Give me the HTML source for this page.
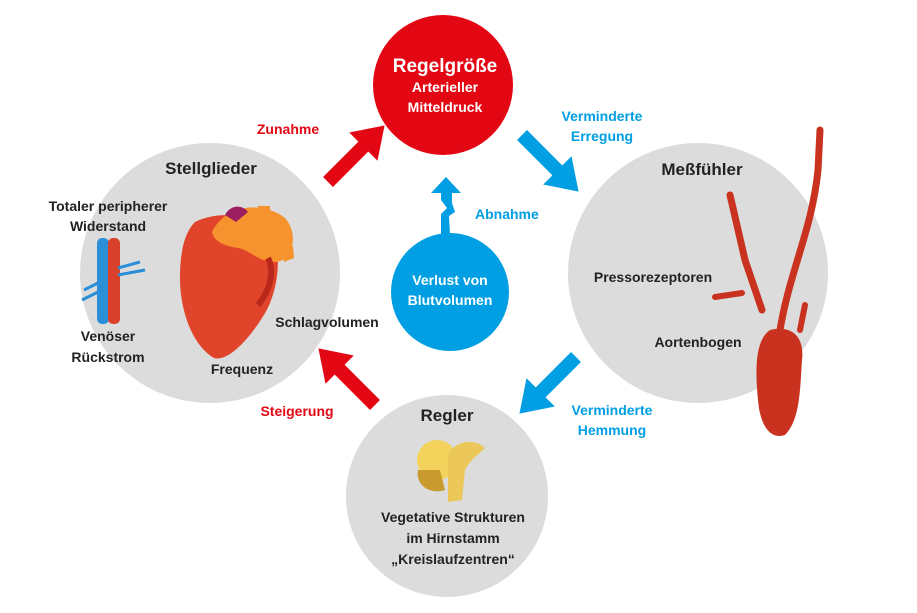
<!DOCTYPE html>
<html><head><meta charset="utf-8"><style>
html,body{margin:0;padding:0;background:#fff;}
svg{display:block;font-family:"Liberation Sans",Arial,sans-serif;font-weight:bold;}
</style></head><body>
<svg width="917" height="613" viewBox="0 0 917 613" xmlns="http://www.w3.org/2000/svg">
<circle cx="210" cy="273" r="130" fill="#dcdcdc"/>
<circle cx="698" cy="273" r="130" fill="#dcdcdc"/>
<circle cx="447" cy="496" r="101" fill="#dcdcdc"/>
<circle cx="443" cy="85" r="70" fill="#e30613"/>
<text x="445" y="72" fill="#fff" font-size="19" text-anchor="middle">Regelgröße</text>
<text x="445" y="92" fill="#fff" font-size="14" text-anchor="middle">Arterieller</text>
<text x="445" y="112" fill="#fff" font-size="14" text-anchor="middle">Mitteldruck</text>
<circle cx="450" cy="292" r="59" fill="#009fe3"/>
<text x="450" y="285" fill="#fff" font-size="14" text-anchor="middle">Verlust von</text>
<text x="450" y="305" fill="#fff" font-size="14" text-anchor="middle">Blutvolumen</text>
<polygon points="446,177 461,193 452,193 452,203 455,212 449,216 450,234 441,234 441,214 447,208 441,200 441,193 431,193" fill="#009fe3"/>
<text x="475" y="219" fill="#009fe3" font-size="14">Abnahme</text>
<g fill="#e30613">
<g transform="translate(328,182) rotate(-45)"><rect x="0" y="-7" width="55" height="14"/><polygon points="50,-20 80,0 50,20"/></g>
<g transform="translate(375,405) rotate(-135)"><rect x="0" y="-7" width="55" height="14"/><polygon points="50,-20 80,0 50,20"/></g>
</g>
<g fill="#009fe3">
<g transform="translate(522,135) rotate(45)"><rect x="0" y="-7" width="55" height="14"/><polygon points="50,-20 80,0 50,20"/></g>
<g transform="translate(576,357) rotate(135)"><rect x="0" y="-7" width="55" height="14"/><polygon points="50,-20 80,0 50,20"/></g>
</g>
<text x="288" y="134" fill="#e30613" font-size="14" text-anchor="middle">Zunahme</text>
<text x="297" y="416" fill="#e30613" font-size="14" text-anchor="middle">Steigerung</text>
<text x="602" y="121" fill="#009fe3" font-size="14" text-anchor="middle">Verminderte</text>
<text x="602" y="141" fill="#009fe3" font-size="14" text-anchor="middle">Erregung</text>
<text x="612" y="415" fill="#009fe3" font-size="14" text-anchor="middle">Verminderte</text>
<text x="612" y="435" fill="#009fe3" font-size="14" text-anchor="middle">Hemmung</text>
<g fill="#222">
<text x="211" y="174" font-size="17" text-anchor="middle">Stellglieder</text>
<text x="108" y="211" font-size="14" text-anchor="middle">Totaler peripherer</text>
<text x="108" y="231" font-size="14" text-anchor="middle">Widerstand</text>
<text x="108" y="341" font-size="14" text-anchor="middle">Venöser</text>
<text x="108" y="362" font-size="14" text-anchor="middle">Rückstrom</text>
<text x="242" y="374" font-size="14" text-anchor="middle">Frequenz</text>
<text x="327" y="327" font-size="14" text-anchor="middle">Schlagvolumen</text>
<text x="702" y="175" font-size="17" text-anchor="middle">Meßfühler</text>
<text x="653" y="282" font-size="14" text-anchor="middle">Pressorezeptoren</text>
<text x="698" y="347" font-size="14" text-anchor="middle">Aortenbogen</text>
<text x="447" y="421" font-size="17" text-anchor="middle">Regler</text>
<text x="453" y="522" font-size="14" text-anchor="middle">Vegetative Strukturen</text>
<text x="453" y="543" font-size="14" text-anchor="middle">im Hirnstamm</text>
<text x="453" y="564" font-size="14" text-anchor="middle">„Kreislaufzentren“</text>
</g>
<rect x="97" y="238" width="12" height="86" rx="5" fill="#2a8fd6"/>
<rect x="108" y="238" width="12" height="86" rx="5" fill="#d9402b"/>
<path d="M118,268 L140,262 M118,275 L145,270 M84,290 L100,282 M82,300 L98,292" stroke="#2a8fd6" stroke-width="3" fill="none"/>
<!-- heart -->
<path d="M195,222 C220,210 250,215 268,228 C285,250 278,295 262,318 C248,340 228,362 214,358 C192,345 180,310 180,278 C180,250 185,232 195,222Z" fill="#e0442a"/>
<path d="M212,232 C225,205 262,200 285,218 C300,235 292,262 275,262 C258,262 250,250 238,248 C225,246 214,242 212,232Z" fill="#f7932f"/>
<path d="M225,215 C230,205 242,204 248,212 L236,222Z" fill="#9b1f5e"/>
<rect x="258" y="206" width="12" height="28" fill="#f7932f"/>
<path d="M282,250 L293,246 L294,258 L284,262Z" fill="#f7932f"/>
<path d="M258,305 C272,288 274,270 268,258" stroke="#b8281b" stroke-width="6" fill="none"/>
<!-- arteries -->
<g fill="none" stroke="#c9321f" stroke-linecap="round">
<path d="M820,130 L818,170 C812,230 790,270 780,330" stroke-width="7"/>
<path d="M730,195 L745,260 L762,310" stroke-width="7"/>
<path d="M715,297 L742,293" stroke-width="6"/>
<path d="M800,330 L805,305" stroke-width="6"/>
</g>
<path d="M770,330 C790,325 805,335 802,360 C800,390 800,420 785,435 C770,440 760,425 758,400 C755,370 755,340 770,330Z" fill="#c9321f"/>
<circle cx="437" cy="460" r="20" fill="#f3d35c"/>
<path d="M448,455 C455,440 475,438 485,448 C478,455 470,460 465,470 L462,500 L448,502 Z" fill="#ecc85a"/>
<path d="M418,470 C415,485 430,495 445,490 L440,470Z" fill="#c99a2e"/>
</svg>
</body></html>
